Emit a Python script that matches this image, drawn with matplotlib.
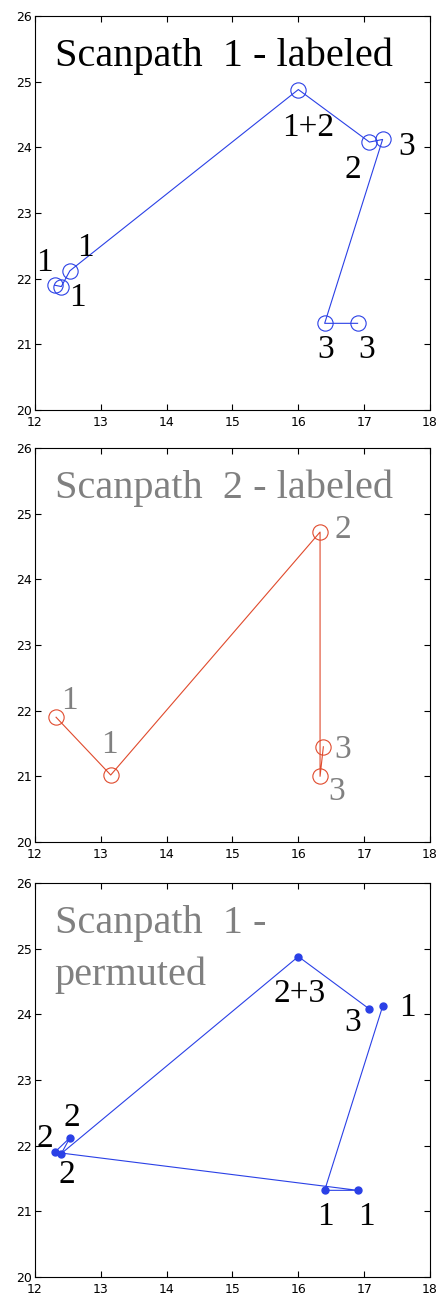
import matplotlib
matplotlib.use("Agg")
import matplotlib.pyplot as plt

# scanpath 1 fixations (path order)
s1_x = [12.30, 12.40, 12.53, 16.00, 17.08, 17.28, 16.40, 16.90]
s1_y = [21.90, 21.88, 22.12, 24.88, 24.08, 24.12, 21.32, 21.32]
s1_lab = ['1', '1', '1', '1+2', '2', '3', '3', '3']
s1_lx = [12.15, 12.76, 12.64, 16.15, 16.83, 17.65, 16.41, 17.03]
s1_ly = [22.25, 22.47, 21.71, 24.30, 23.66, 24.01, 20.92, 20.92]

# scanpath 2 fixations
s2_x = [12.32, 13.15, 16.33, 16.33, 16.38]
s2_y = [21.90, 21.02, 24.72, 21.00, 21.45]
s2_lab = ['1', '1', '2', '3', '3']
s2_lx = [12.53, 13.13, 16.68, 16.58, 16.68]
s2_ly = [22.15, 21.48, 24.75, 20.76, 21.40]

# scanpath 1 permuted (path order)
s3_x = [17.28, 16.40, 16.90, 12.30, 12.53, 12.40, 16.00, 17.08]
s3_y = [24.12, 21.32, 21.32, 21.90, 22.12, 21.88, 24.88, 24.08]
s3_lab = ['2', '2', '2', '2+3', '3', '1', '1', '1']
s3_lx = [12.15, 12.56, 12.48, 16.02, 16.82, 17.65, 16.41, 17.04]
s3_ly = [22.11, 22.42, 21.55, 24.32, 23.87, 24.10, 20.91, 20.91]

blue = '#2a40e6'
red = '#e04a2c'
grey = '#808080'
serif = 'Liberation Serif'
lab_size = 24

fig = plt.figure(figsize=(4.37, 12.96), dpi=100)
W, H = 437, 1296
tops = [16, 448, 883]
axes = []
for t in tops:
    ax = fig.add_axes([35 / W, 1 - (t + 394) / H, 395 / W, 394 / H])
    ax.set_xlim(12, 18)
    ax.set_ylim(20, 26)
    ax.set_xticks(range(12, 19))
    ax.set_yticks(range(20, 27))
    ax.tick_params(direction='in', top=True, right=True, labelsize=9, length=4)
    ax.tick_params(axis='x', pad=4)
    ax.tick_params(axis='y', pad=2)
    for sp in ax.spines.values():
        sp.set_linewidth(0.8)
    axes.append(ax)

ax1, ax2, ax3 = axes

ax1.plot(s1_x, s1_y, '-o', color=blue, lw=0.8, ms=11, mfc='none', mew=0.8)
for lx, ly, s in zip(s1_lx, s1_ly, s1_lab):
    ax1.text(lx, ly, s, family=serif, fontsize=lab_size, ha='center', va='center', color='black')
ax1.text(0.05, 0.872, 'Scanpath  1 - labeled', transform=ax1.transAxes,
         family=serif, fontsize=29, ha='left', va='baseline', color='black')

ax2.plot(s2_x, s2_y, '-o', color=red, lw=0.8, ms=11, mfc='none', mew=0.8)
for lx, ly, s in zip(s2_lx, s2_ly, s2_lab):
    ax2.text(lx, ly, s, family=serif, fontsize=lab_size, ha='center', va='center', color=grey)
ax2.text(0.05, 0.872, 'Scanpath  2 - labeled', transform=ax2.transAxes,
         family=serif, fontsize=29, ha='left', va='baseline', color=grey)

ax3.plot(s3_x, s3_y, '-o', color=blue, lw=0.8, ms=5, mfc=blue, mec=blue)
for lx, ly, s in zip(s3_lx, s3_ly, s3_lab):
    ax3.text(lx, ly, s, family=serif, fontsize=lab_size, ha='center', va='center', color='black')
ax3.text(0.05, 0.872, 'Scanpath  1 -', transform=ax3.transAxes,
         family=serif, fontsize=29, ha='left', va='baseline', color=grey)
ax3.text(0.05, 0.742, 'permuted', transform=ax3.transAxes,
         family=serif, fontsize=29, ha='left', va='baseline', color=grey)

fig.savefig('out.png', dpi=100)
